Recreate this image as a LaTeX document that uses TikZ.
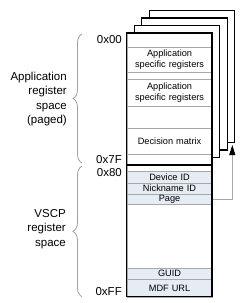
\documentclass[tikz,border=0pt]{standalone}
\usepackage{fontspec}
\setmainfont{Liberation Sans}
\usetikzlibrary{arrows.meta,decorations.pathreplacing}
\definecolor{rowgray}{HTML}{A8A8A8}
\definecolor{vfill}{HTML}{E6ECF4}
\definecolor{bracegray}{HTML}{A0A0A0}
\begin{document}
\begin{tikzpicture}[x=1pt,y=-1pt,
  row/.style={draw=rowgray, line width=0.6pt, minimum width=85.5pt, inner sep=0pt,
    anchor=north west, font=\fontsize{9.2}{10.6}\selectfont, align=center, text width=85pt},
  vrow/.style={row, fill=vfill},
  pagebox/.style={draw=black, line width=1.1pt, fill=white},
  bigtext/.style={font=\fontsize{11.5}{14.5}\selectfont, align=right, inner sep=0pt},
  hexlabel/.style={font=\fontsize{11.5}{13}\selectfont, anchor=east, inner sep=0pt},
  bracestyle/.style={draw=bracegray, line width=0.8pt, decorate, decoration={brace, amplitude=9pt}},
  arrowline/.style={draw=rowgray, line width=0.8pt, -{Triangle[length=10pt,width=6pt,black,fill=black]}}
]
\useasboundingbox[fill=white] (0,0) rectangle (250,303);

% background pages
\foreach \k in {3,2,1}{
  \draw[pagebox] ({126.5+7.6*\k},{33-7.5*\k}) rectangle ({212+7.6*\k},{165-7.5*\k});
}
% front page rows
\fill[white] (126.5,33) rectangle (212,296.7);
\node[row, minimum height=13.7pt] (r0) at (126.5,33) {};
\node[row, minimum height=25pt] (asr1) at (126.5,46.7) {Application\\specific registers};
\node[row, minimum height=7.3pt] (r2) at (126.5,71.7) {};
\node[row, minimum height=26.7pt] (asr2) at (126.5,79) {Application\\specific registers};
\node[row, minimum height=22pt] (r4) at (126.5,105.7) {};
\node[row, minimum height=26.6pt] (dm) at (126.5,127.7) {Decision matrix};
\node[row, minimum height=10.7pt] (r6) at (126.5,154.3) {};
\node[row, minimum height=6pt] (v0) at (126.5,165) {};
\node[vrow, minimum height=12pt] (dev) at (126.5,171) {Device ID};
\node[vrow, minimum height=10.5pt] (nick) at (126.5,183) {Nickname ID};
\node[vrow, minimum height=10.8pt] (pg) at (126.5,193.5) {Page};
\node[row, minimum height=63.4pt] (vblank) at (126.5,204.3) {};
\node[vrow, minimum height=11.6pt] (guid) at (126.5,267.7) {GUID};
\node[vrow, minimum height=17.4pt] (mdf) at (126.5,279.3) {MDF URL};

% outer border and separator
\draw[black, line width=1.1pt] (126.5,33) rectangle (212,296.7);
\draw[black, line width=1.1pt] (126.5,165) -- (212,165);

% arrow to pages
\coordinate (tip) at (232.3,145);
\draw[arrowline] (pg.east) -| (tip);

% hex labels
\node[hexlabel] (h00) at (122,40) {0x00};
\node[hexlabel] (h7f) at (122,159.3) {0x7F};
\node[hexlabel] (h80) at (122,172.7) {0x80};
\node[hexlabel] (hff) at (122,291.7) {0xFF};

% braces
\draw[bracestyle] (82,163) -- (82,34);
\draw[bracestyle] (82,296.7) -- (82,166);

% side labels
\node[bigtext, anchor=east] (applbl) at (67,99) {Application\\register\\space\\(paged)};
\node[bigtext, anchor=east] (vscplbl) at (66,229) {VSCP\\register\\space};
\end{tikzpicture}
\end{document}
